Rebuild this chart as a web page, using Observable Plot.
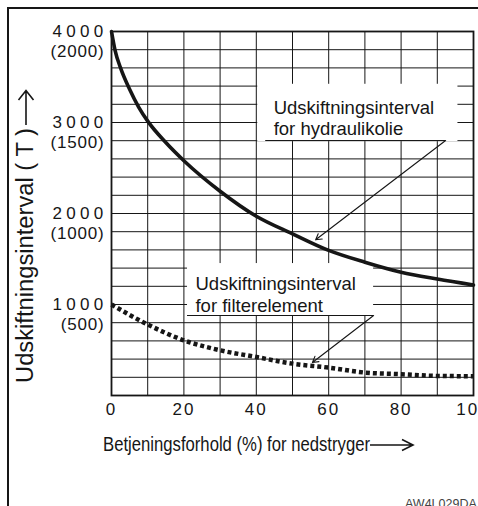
<!DOCTYPE html>
<html><head><meta charset="utf-8">
<script src="https://cdn.jsdelivr.net/npm/d3@7"></script>
<script src="https://cdn.jsdelivr.net/npm/@observablehq/plot@0.6"></script>
<style>body{margin:0;background:#fff} svg{display:block}</style>
</head><body><div id="chart"></div>
<script>
// Hydraulic oil replacement interval (solid)
const hydraulicX = [0, 1, 2.5, 5, 7.5, 10, 15, 20, 30, 40, 50, 60, 70, 80, 90, 100];
const hydraulicY = [4000, 3790, 3600, 3365, 3170, 3015, 2780, 2580, 2245, 1970, 1777, 1595, 1465, 1355, 1280, 1215];
// Filter element replacement interval (dotted)
const filterX = [0, 10, 20, 30, 40, 50, 60, 70, 80, 90, 100];
const filterY = [1000, 780, 606, 497, 423, 350, 306, 252, 234, 215, 212];

const xTicks = [0, 20, 40, 60, 80, 100];
const xGrid = [0, 10, 20, 30, 40, 50, 60, 70, 80, 90, 100];
const yGrid = [0, 200, 400, 600, 800, 1000, 1200, 1400, 1600, 1800, 2000, 2200, 2400, 2600, 2800, 3000, 3200, 3400, 3600, 3800, 4000];
const yTicks = [1000, 2000, 3000, 4000];
const yTickMain = ["1000", "2000", "3000", "4000"];
const yTickSub = ["(500)", "(1000)", "(1500)", "(2000)"];

// Annotations (data units)
const annLabels = ["Udskiftningsinterval", "for hydraulikolie", "Udskiftningsinterval", "for filterelement"];
const annLabelX = [44.8, 44.8, 23.2, 23.2];
const annLabelY = [3160, 2933, 1219, 988];
const annBoxX1 = [40.4, 21], annBoxX2 = [95.7, 72.4], annBoxY1 = [2790, 868], annBoxY2 = [3420, 1450];
const annLineX1 = [42.6, 21], annLineX2 = [92.3, 72.4], annLineY = [2802, 879];
const annArrowX2 = [56.4, 55.5], annArrowY2 = [1711, 363];

const hydraulic = hydraulicX.map((x, i) => ({x, y: hydraulicY[i]}));
const filter = filterX.map((x, i) => ({x, y: filterY[i]}));
const yTickRows = yTicks.map((v, i) => ({v, main: yTickMain[i], sub: yTickSub[i]}));
const labels = annLabels.map((t, i) => ({t, x: annLabelX[i], y: annLabelY[i]}));
const boxes = annBoxX1.map((x1, i) => ({x1, x2: annBoxX2[i], y1: annBoxY1[i], y2: annBoxY2[i]}));
const underlines = annLineX1.map((x1, i) => ({x1, x2: annLineX2[i], y: annLineY[i]}));
const arrows = annLineX2.map((x1, i) => ({x1, y1: annLineY[i], x2: annArrowX2[i], y2: annArrowY2[i]}));

const ink = "#161616";
const svg = Plot.plot({
  width: 478, height: 506,
  marginLeft: 111, marginRight: 5, marginTop: 31, marginBottom: 111,
  x: {domain: [0, 100], axis: null},
  y: {domain: [0, 4000], axis: null},
  style: {fontFamily: "'Liberation Sans', Arial, sans-serif", background: "white", color: ink},
  marks: [
    Plot.ruleX(xGrid, {x: d => d, stroke: ink, strokeWidth: 1}),
    Plot.ruleY(yGrid, {y: d => d, stroke: ink, strokeWidth: 1}),
    Plot.frame({stroke: ink, strokeWidth: 1.8}),
    Plot.rect(boxes, {x1: "x1", x2: "x2", y1: "y1", y2: "y2", fill: "white"}),
    Plot.line(hydraulic, {x: "x", y: "y", curve: "monotone-x", stroke: ink, strokeWidth: 3.6}),
    Plot.line(filter, {x: "x", y: "y", curve: "monotone-x", stroke: ink, strokeWidth: 4.5, strokeDasharray: "4,3", strokeLinecap: "butt", strokeLinejoin: "miter"}),
    Plot.text(labels, {x: "x", y: "y", text: "t", textAnchor: "start", lineAnchor: "middle", fontSize: 18.5, fill: ink}),
    Plot.ruleY(underlines, {x1: "x1", x2: "x2", y: "y", stroke: ink, strokeWidth: 1}),
    Plot.arrow(arrows, {x1: "x1", y1: "y1", x2: "x2", y2: "y2", stroke: ink, strokeWidth: 1.1, headLength: 9}),
    Plot.text(yTickRows, {y: "v", frameAnchor: "left", text: "main", textAnchor: "end", lineAnchor: "middle", dx: -4, fontSize: 17, fill: ink}),
    Plot.text(yTickRows, {y: "v", frameAnchor: "left", text: "sub", textAnchor: "end", lineAnchor: "middle", dx: -7, dy: 20, fontSize: 17, fill: ink}),
    Plot.text(xTicks, {x: d => d, frameAnchor: "bottom", text: d => String(d), lineAnchor: "middle", dy: 14.5, fontSize: 17, fill: ink})
  ]
});

const s = d3.select(svg);
s.selectAll("text").each(function() {
  const t = this.textContent;
  if (/^\d{4}$/.test(t)) d3.select(this).style("letter-spacing", "4.3px");
  else if (/^\(\d+\)$/.test(t)) d3.select(this).style("letter-spacing", "0.8px");
  else if (/^\d{1,3}$/.test(t)) d3.select(this).style("letter-spacing", "2px");
});

// outer border
s.append("rect").attr("x", 8).attr("y", 8).attr("width", 700).attr("height", 700)
  .attr("fill", "none").attr("stroke", ink).attr("stroke-width", 2);

// y label
s.append("text")
  .attr("transform", "translate(33,383) rotate(-90)")
  .attr("text-anchor", "start")
  .attr("font-size", 23).attr("fill", ink)
  .attr("textLength", 255).attr("lengthAdjust", "spacingAndGlyphs")
  .text("Udskiftningsinterval ( T )");
s.append("path").attr("d", "M26,125V90.5M18.5,100L26,90.5L33.5,100")
  .attr("fill", "none").attr("stroke", ink).attr("stroke-width", 1.6);

// x label
s.append("text")
  .attr("x", 103).attr("y", 450.5)
  .attr("text-anchor", "start")
  .attr("font-size", 20).attr("fill", ink)
  .attr("textLength", 267).attr("lengthAdjust", "spacingAndGlyphs")
  .text("Betjeningsforhold (%) for nedstryger");
s.append("path").attr("d", "M370,445H413M402,439.5L413,445L402,450.5")
  .attr("fill", "none").attr("stroke", ink).attr("stroke-width", 1.6);

// caption
s.append("text").attr("x", 405).attr("y", 507.5)
  .attr("text-anchor", "start")
  .attr("font-size", 12.5).attr("fill", "#444")
  .text("AW4L029DA");

document.getElementById("chart").appendChild(svg);
</script>
</body></html>
